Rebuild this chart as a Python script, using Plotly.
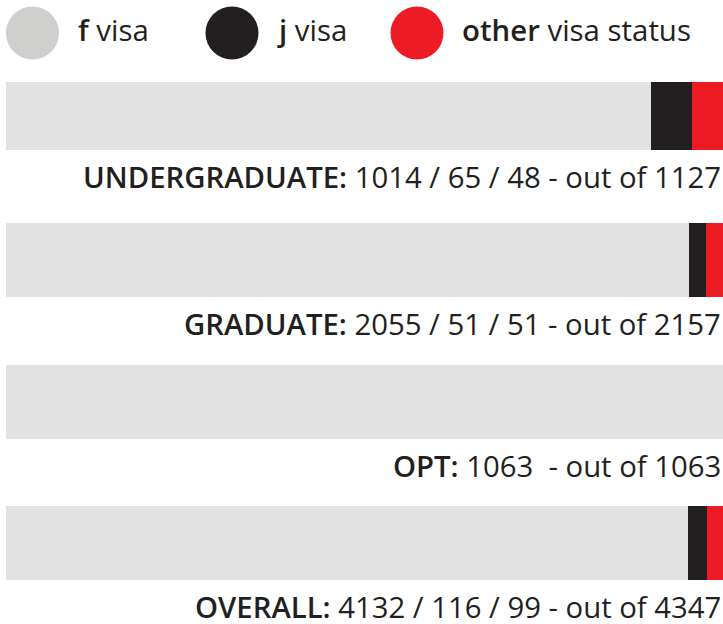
import plotly.graph_objects as go

# ---- data ----
groups = ["UNDERGRADUATE", "GRADUATE", "OPT", "OVERALL"]
f_visa = [1014, 2055, 1063, 4132]
j_visa = [65, 51, 0, 116]
other_visa = [48, 51, 0, 99]
totals = [1127, 2157, 1063, 4347]
label_counts = ["1014 / 65 / 48", "2055 / 51 / 51", "1063\u00a0", "4132 / 116 / 99"]

legend_names = ["f", "j", "other"]
legend_rest = ["visa", "visa", "visa status"]

# ---- style ----
FONT = "Open Sans"
TEXT = "#231f20"
C_F = "#e1e2e1"
C_J = "#231f20"
C_O = "#ed1c24"
C_LEG = ["#cfcfcd", "#231f20", "#ed1c24"]
SEMI = '<span style="font-weight:600">{}</span>'

W, H = 723, 624
PX_PER_UNIT = 141.5
TOP = -118.5 / PX_PER_UNIT
BOTTOM = TOP + H / PX_PER_UNIT

widths = [68 / PX_PER_UNIT] + [74 / PX_PER_UNIT] * 3
offsets = [-37 / PX_PER_UNIT] * 4

idx = list(range(len(groups)))

fig = go.Figure()
for vals, col, name in [(f_visa, C_F, "f visa"), (j_visa, C_J, "j visa"), (other_visa, C_O, "other visa status")]:
    fig.add_trace(go.Bar(
        x=vals, y=idx, orientation="h", name=name,
        marker=dict(color=col, line=dict(width=0)),
        width=widths, offset=offsets, showlegend=False,
        xaxis="x", yaxis="y",
    ))

# legend circles
legend_x = [32.5, 232, 417]
fig.add_trace(go.Scatter(
    x=legend_x, y=[0, 0, 0], mode="markers",
    marker=dict(size=53, color=C_LEG, line=dict(width=0)),
    xaxis="x2", yaxis="y2", showlegend=False, hoverinfo="skip",
))

annotations = []
for lx, b, r in zip(legend_x, legend_names, legend_rest):
    annotations.append(dict(
        x=lx + 43, y=0, xref="x2", yref="y2", xanchor="left", yanchor="middle",
        yshift=3,
        text=SEMI.format(b) + f" {r}", showarrow=False,
        font=dict(family=FONT, size=29.4, color=TEXT),
    ))

GAP = 27 / PX_PER_UNIT
for i, g in enumerate(groups):
    ly = i + offsets[i] + widths[i] + GAP
    annotations.append(dict(
        x=1, y=ly, xref="x", yref="y", xanchor="right", yanchor="middle",
        text=SEMI.format(g + ":") + f" {label_counts[i]} - out of {totals[i]}",
        showarrow=False, font=dict(family=FONT, size=29.3, color=TEXT),
    ))

fig.update_layout(
    width=W, height=H,
    margin=dict(l=0, r=0, t=0, b=0),
    paper_bgcolor="white", plot_bgcolor="white",
    barmode="stack", barnorm="fraction", bargap=0,
    xaxis=dict(domain=[6 / W, 1], range=[0, 1], visible=False, fixedrange=True),
    yaxis=dict(range=[BOTTOM, TOP], visible=False, fixedrange=True),
    xaxis2=dict(domain=[0, 1], range=[0, W], visible=False, anchor="y2"),
    yaxis2=dict(domain=[1 - 66 / H, 1], range=[-1, 1], visible=False, anchor="x2"),
    annotations=annotations,
    font=dict(family=FONT, color=TEXT),
)

fig.write_html(
    "out.html",
    config={"displayModeBar": False},
    post_script="document.body.style.margin='0';document.body.style.overflow='hidden';",
)
